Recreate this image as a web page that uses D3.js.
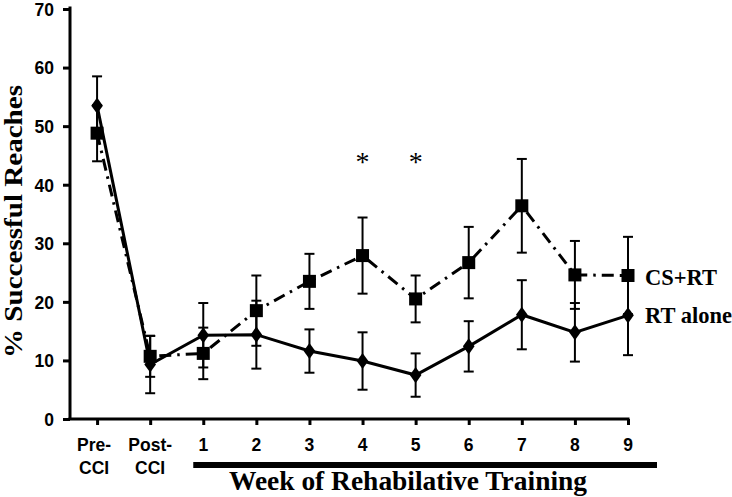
<!DOCTYPE html>
<html>
<head>
<meta charset="utf-8">
<script src="https://cdn.jsdelivr.net/npm/d3@7"></script>
<style>
  html, body { margin: 0; padding: 0; background: #fff; }
  svg { display: block; }
</style>
</head>
<body>
<svg id="chart" width="732" height="497"></svg>
<script>
// ---- data ----
const categories = ["Pre-CCI", "Post-CCI", "1", "2", "3", "4", "5", "6", "7", "8", "9"];
const tickLabels = [["Pre-", "CCI"], ["Post-", "CCI"], ["1"], ["2"], ["3"], ["4"], ["5"], ["6"], ["7"], ["8"], ["9"]];
const rtAlone    = [53.5, 9.3, 14.3, 14.4, 11.6, 9.9, 7.5, 12.4, 17.8, 14.8, 17.7];
const rtAloneErr = [5.0, 4.9, 5.5, 5.8, 3.7, 4.9, 3.7, 4.3, 5.9, 5.0, 6.8];
const csRt       = [48.8, 10.7, 11.2, 18.5, 23.5, 27.9, 20.5, 26.7, 36.4, 24.6, 24.5];
const csRtErr    = [4.8, 3.5, 4.4, 6.0, 4.7, 6.5, 4.0, 6.1, 8.0, 5.8, 6.6];
const yTicks     = [0, 10, 20, 30, 40, 50, 60, 70];
const significant = ["4", "5"];
const seriesNames = ["CS+RT", "RT alone"];
const yTitle = "% Successful Reaches";
const xTitle = "Week of Rehabilative Training";

(function () {
// ---- layout ----
const svg = d3.select("#chart");
const mLeft = 70, mRight = 628, mTop = 9, mBottom = 419;

const x = d3.scaleLinear().domain([-0.51, categories.length - 1]).range([mLeft, mRight]);
const y = d3.scaleLinear().domain([0, 70]).range([mBottom, mTop]);
const xi = i => x(i);

// y axis
const yAxis = d3.axisLeft(y).tickValues(yTicks).tickSize(7).tickPadding(9).tickFormat(d3.format("d"));
const gy = svg.append("g").attr("transform", `translate(${mLeft},0)`).call(yAxis);
gy.select(".domain").attr("stroke", "#000").attr("stroke-width", 3).attr("d", `M0,${mTop - 2.5}V${mBottom}`);
gy.selectAll(".tick line").attr("stroke", "#000").attr("stroke-width", 3);
gy.selectAll(".tick text").attr("font-family", "Liberation Sans, Arial, sans-serif")
  .attr("font-weight", "bold").attr("font-size", 17.5).attr("fill", "#000").attr("dy", "0.36em")
  .attr("x", -16);

// x axis
const xAxis = d3.axisBottom(x).tickValues(d3.range(categories.length)).tickSize(6).tickFormat("");
const gx = svg.append("g").attr("transform", `translate(0,${mBottom})`).call(xAxis);
gx.select(".domain").attr("stroke", "#000").attr("stroke-width", 3).attr("d", `M${mLeft - 1.5},0H${mRight + 1.5}`);
gx.selectAll(".tick line").attr("stroke", "#000").attr("stroke-width", 3);

// x tick labels (two lines for Pre/Post)
const lab = svg.append("g").attr("font-family", "Liberation Sans, Arial, sans-serif")
  .attr("font-weight", "bold").attr("font-size", 17.5).attr("fill", "#000").attr("text-anchor", "middle");
tickLabels.forEach((lines, i) => {
  const cx = xi(i) - (i === 0 ? 3 : 0);
  const t = lab.append("text").attr("x", cx).attr("y", 451);
  lines.forEach((s, k) => t.append("tspan").attr("x", cx).attr("dy", k === 0 ? 0 : 23).text(s));
});

// bar above x title
svg.append("line").attr("x1", xi(2) - 10).attr("x2", 657).attr("y1", 465).attr("y2", 465)
  .attr("stroke", "#000").attr("stroke-width", 6);

// x title
svg.append("text").attr("x", 408).attr("y", 490).attr("text-anchor", "middle")
  .attr("font-family", "Liberation Serif, Times New Roman, serif").attr("font-weight", "bold")
  .attr("font-size", 27).attr("textLength", 358).attr("lengthAdjust", "spacingAndGlyphs")
  .attr("fill", "#000").text(xTitle);

// y title
svg.append("text").attr("transform", `translate(22,${(85 + 358) / 2}) rotate(-90)`).attr("text-anchor", "middle")
  .attr("font-family", "Liberation Serif, Times New Roman, serif").attr("font-weight", "bold")
  .attr("font-size", 25).attr("textLength", 273).attr("lengthAdjust", "spacingAndGlyphs")
  .attr("fill", "#000").text(yTitle);

// lines
const line = d3.line().x((d, i) => xi(i)).y(d => y(d));
svg.append("path").datum(csRt).attr("d", line).attr("fill", "none").attr("stroke", "#000")
  .attr("stroke-width", 3).attr("stroke-dasharray", "12,6,2.5,6");
svg.append("path").datum(rtAlone).attr("d", line).attr("fill", "none").attr("stroke", "#000")
  .attr("stroke-width", 3);

// error bars
function errorBars(vals, errs) {
  const g = svg.append("g").attr("stroke", "#000").attr("stroke-width", 2).attr("fill", "none");
  vals.forEach((v, i) => {
    const cx = xi(i), y1 = y(v + errs[i]), y2 = y(v - errs[i]);
    g.append("line").attr("x1", cx).attr("x2", cx).attr("y1", y1).attr("y2", y2);
    g.append("line").attr("x1", cx - 5).attr("x2", cx + 5).attr("y1", y1).attr("y2", y1);
    g.append("line").attr("x1", cx - 5).attr("x2", cx + 5).attr("y1", y2).attr("y2", y2);
  });
}
errorBars(csRt, csRtErr);
errorBars(rtAlone, rtAloneErr);

// markers
svg.append("g").selectAll("rect").data(csRt).join("rect")
  .attr("x", (d, i) => xi(i) - 6.5).attr("y", d => y(d) - 6.5)
  .attr("width", 13).attr("height", 13).attr("fill", "#000");
const diamond = d3.symbol().type(d3.symbolDiamond).size(75);
svg.append("g").selectAll("path").data(rtAlone).join("path")
  .attr("transform", (d, i) => `translate(${xi(i)},${y(d)}) scale(1.25,1)`)
  .attr("d", diamond).attr("fill", "#000");

// significance asterisks
svg.append("g").selectAll("text").data(significant).join("text")
  .attr("x", d => xi(categories.indexOf(d))).attr("y", 171).attr("text-anchor", "middle")
  .attr("font-family", "Liberation Serif, Times New Roman, serif").attr("font-size", 28).attr("fill", "#000")
  .text("*");

// legend labels at line ends
const lg = svg.append("g").attr("font-family", "Liberation Serif, Times New Roman, serif")
  .attr("font-weight", "bold").attr("font-size", 22.5).attr("fill", "#000");
lg.append("text").attr("x", 645).attr("y", 285).text(seriesNames[0]);
lg.append("text").attr("x", 645).attr("y", 323).text(seriesNames[1]);
})();
</script>
</body>
</html>
